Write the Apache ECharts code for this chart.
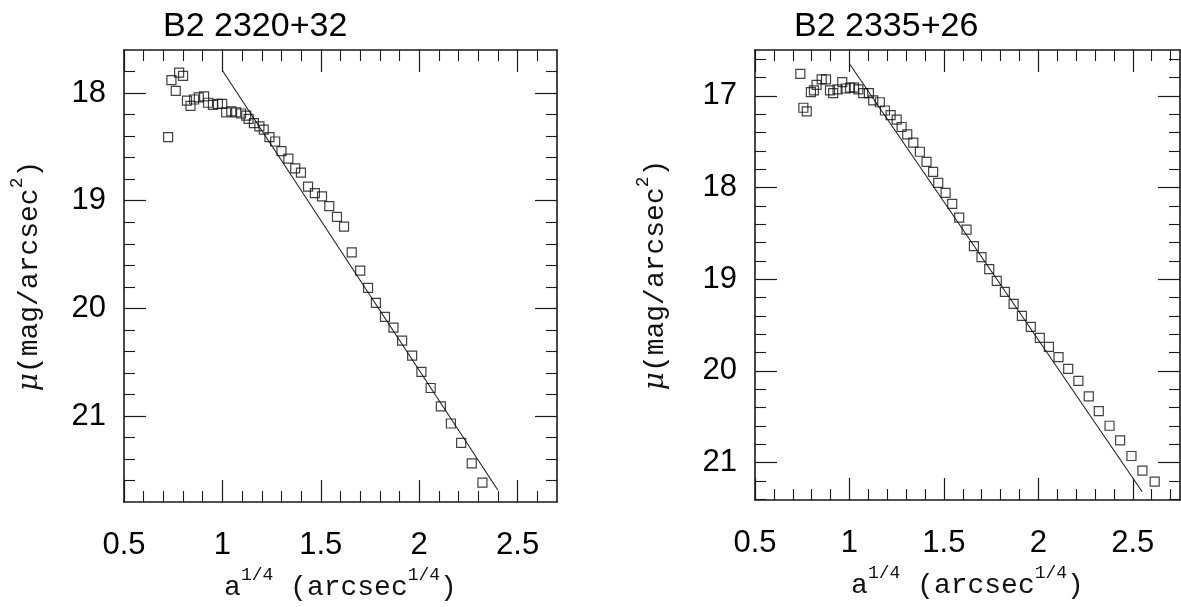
<!DOCTYPE html>
<html>
<head>
<meta charset="utf-8">
<script src="https://cdn.jsdelivr.net/npm/echarts@6/dist/echarts.min.js"></script>
<style>
html,body{margin:0;padding:0;background:#fff;}
#chart{width:1181px;height:607px;}
</style>
</head>
<body>
<div id="chart"></div>
<script>
// ---- Data ----
const leftTitle = 'B2 2320+32';
const rightTitle = 'B2 2335+26';

const leftX = [0.724,0.741,0.763,0.780,0.800,0.820,0.838,0.856,0.880,0.907,0.927,0.952,0.977,0.999,1.019,1.045,1.070,1.095,1.121,1.133,1.160,1.188,1.210,1.239,1.268,1.300,1.335,1.370,1.399,1.435,1.470,1.506,1.543,1.582,1.618,1.657,1.700,1.740,1.780,1.826,1.869,1.913,1.964,2.011,2.058,2.110,2.161,2.213,2.267,2.321];
const leftY = [18.41,17.88,17.98,17.81,17.84,18.07,18.12,18.06,18.04,18.03,18.09,18.11,18.10,18.10,18.18,18.17,18.18,18.19,18.21,18.24,18.28,18.31,18.34,18.41,18.45,18.54,18.61,18.70,18.74,18.87,18.93,18.96,19.05,19.15,19.24,19.48,19.65,19.81,19.95,20.08,20.18,20.30,20.44,20.59,20.74,20.91,21.07,21.25,21.44,21.62];

const rightX = [0.740,0.756,0.774,0.796,0.812,0.826,0.853,0.876,0.897,0.914,0.937,0.962,0.980,1.003,1.024,1.047,1.073,1.103,1.126,1.161,1.188,1.218,1.250,1.276,1.306,1.338,1.373,1.408,1.443,1.470,1.509,1.544,1.581,1.620,1.659,1.699,1.740,1.780,1.823,1.869,1.913,1.960,2.008,2.056,2.107,2.158,2.212,2.267,2.320,2.377,2.433,2.493,2.551,2.616];
const rightY = [16.76,17.13,17.17,16.96,16.94,16.88,16.82,16.82,16.94,16.97,16.93,16.85,16.92,16.91,16.91,16.93,16.97,16.97,17.05,17.07,17.16,17.21,17.26,17.34,17.42,17.51,17.61,17.72,17.83,17.95,18.06,18.18,18.33,18.46,18.64,18.76,18.89,19.02,19.14,19.27,19.40,19.52,19.64,19.74,19.85,19.98,20.11,20.28,20.44,20.60,20.76,20.93,21.09,21.21];

const leftFitX = [1.0, 2.4];
const leftFitY = [17.79, 21.69];
const rightFitX = [1.0, 2.55];
const rightFitY = [16.65, 21.32];

const xMajorTicks = [0.5, 1, 1.5, 2, 2.5];
const leftYMajorTicks = [18, 19, 20, 21];
const rightYMajorTicks = [17, 18, 19, 20, 21];

// ---- Layout helpers ----
function minorTicks(lo, hi, step, majors) {
  const out = [];
  const n = Math.round((hi - lo) / step);
  for (let i = 0; i <= n; i++) {
    const v = Math.round((lo + i * step) * 100) / 100;
    if (!majors.some(m => Math.abs(m - v) < 1e-6)) out.push(v);
  }
  return out;
}
function pairs(xs, ys) { return xs.map((x, i) => [x, ys[i]]); }

const LABEL_FONT = 'Liberation Sans';
const NAME_FONT = 'Liberation Mono';
const MAJOR_LEN = 22, MINOR_LEN = 11;

const panels = [
  { grid: {left:124, top:50, width:433, height:453}, xMin:0.5, xMax:2.7, yMin:17.6, yMax:21.8,
    yMajor: leftYMajorTicks, yMinorLo:17.8, yMinorHi:21.6, title: leftTitle, nameGapY: 80 },
  { grid: {left:755, top:50, width:425, height:450}, xMin:0.5, xMax:2.75, yMin:16.5, yMax:21.41,
    yMajor: rightYMajorTicks, yMinorLo:16.6, yMinorHi:21.4, title: rightTitle, nameGapY: 85 }
];

const xAxes = [], yAxes = [], grids = [], titles = [];
const lineCol = '#1a1a1a';

const xName = '{n|a}{s|1/4}{n| (arcsec}{s|1/4}{n|)}';
const yName = '{m|\u03bc}{n|(mag/arcsec}{s|2}{n|)}';
const nameRich = {
  n: {fontFamily: NAME_FONT, fontSize: 28, color: '#111', lineHeight: 36, verticalAlign: 'bottom'},
  m: {fontFamily: 'DejaVu Serif', fontSize: 28, fontStyle: 'italic', color: '#111', lineHeight: 36, verticalAlign: 'bottom'},
  s: {fontFamily: NAME_FONT, fontSize: 18, color: '#111', lineHeight: 36, verticalAlign: 'top'}
};

panels.forEach((p, gi) => {
  grids.push(Object.assign({containLabel:false}, p.grid));
  titles.push({text: p.title, left: p.grid.left + 34, top: 5,
    textStyle: {fontFamily: LABEL_FONT, fontSize: 34, fontWeight: 'normal', color: '#000'}});
  const xMinor = minorTicks(p.xMin, p.xMax, 0.1, xMajorTicks).filter(v => v > p.xMin && v < p.xMax);
  const yMinor = minorTicks(p.yMinorLo, p.yMinorHi, 0.2, p.yMajor);
  const baseX = {type:'value', gridIndex: gi, min: p.xMin, max: p.xMax, splitLine:{show:false}, z: 5};
  const baseY = {type:'value', gridIndex: gi, min: p.yMin, max: p.yMax, inverse: true, splitLine:{show:false}, z: 5};
  ['bottom','top'].forEach(pos => {
    xAxes.push(Object.assign({}, baseX, {
      position: pos,
      axisLine: {show:true, onZero:false, lineStyle:{color: lineCol, width: 1.6}},
      axisTick: {show:true, inside:true, length: MAJOR_LEN, customValues: xMajorTicks, lineStyle:{color: lineCol, width:1.2}},
      axisLabel: pos === 'bottom'
        ? {show:true, customValues: xMajorTicks, fontFamily: LABEL_FONT, fontSize: 31, color:'#000', margin: 28, formatter: v => String(v)}
        : {show:false},
      name: pos === 'bottom' ? xName : '',
      nameLocation: 'middle', nameGap: 62,
      nameTextStyle: {rich: nameRich}
    }));
    xAxes.push(Object.assign({}, baseX, {
      position: pos,
      axisLine: {show:false, onZero:false},
      axisTick: {show:true, inside:true, length: MINOR_LEN, customValues: xMinor, lineStyle:{color: lineCol, width:1.1}},
      axisLabel: {show:false}
    }));
  });
  ['left','right'].forEach(pos => {
    yAxes.push(Object.assign({}, baseY, {
      position: pos,
      axisLine: {show:true, onZero:false, lineStyle:{color: lineCol, width: 1.6}},
      axisTick: {show:true, inside:true, length: MAJOR_LEN, customValues: p.yMajor, lineStyle:{color: lineCol, width:1.2}},
      axisLabel: pos === 'left'
        ? {show:true, customValues: p.yMajor, fontFamily: LABEL_FONT, fontSize: 31, color:'#000', margin: 18}
        : {show:false},
      name: pos === 'left' ? yName : '',
      nameLocation: 'middle', nameGap: p.nameGapY,
      nameTextStyle: {rich: nameRich}
    }));
    yAxes.push(Object.assign({}, baseY, {
      position: pos,
      axisLine: {show:false, onZero:false},
      axisTick: {show:true, inside:true, length: MINOR_LEN, customValues: yMinor, lineStyle:{color: lineCol, width:1.1}},
      axisLabel: {show:false}
    }));
  });
});

const scatterStyle = {color: 'rgba(0,0,0,0)', borderColor: '#111', borderWidth: 1.2};
const series = [
  {type:'scatter', xAxisIndex:0, yAxisIndex:0, symbol:'rect', symbolSize:9, itemStyle: scatterStyle, data: pairs(leftX, leftY), z: 3},
  {type:'line', xAxisIndex:0, yAxisIndex:0, symbol:'none', lineStyle:{color:'#222', width:1.1}, data: pairs(leftFitX, leftFitY), z: 2},
  {type:'scatter', xAxisIndex:4, yAxisIndex:4, symbol:'rect', symbolSize:9, itemStyle: scatterStyle, data: pairs(rightX, rightY), z: 3},
  {type:'line', xAxisIndex:4, yAxisIndex:4, symbol:'none', lineStyle:{color:'#222', width:1.1}, data: pairs(rightFitX, rightFitY), z: 2}
];

const chart = echarts.init(document.getElementById('chart'), null, {renderer:'canvas'});
chart.setOption({
  animation: false,
  backgroundColor: '#fff',
  title: titles,
  grid: grids,
  xAxis: xAxes,
  yAxis: yAxes,
  series: series
});
</script>
</body>
</html>
